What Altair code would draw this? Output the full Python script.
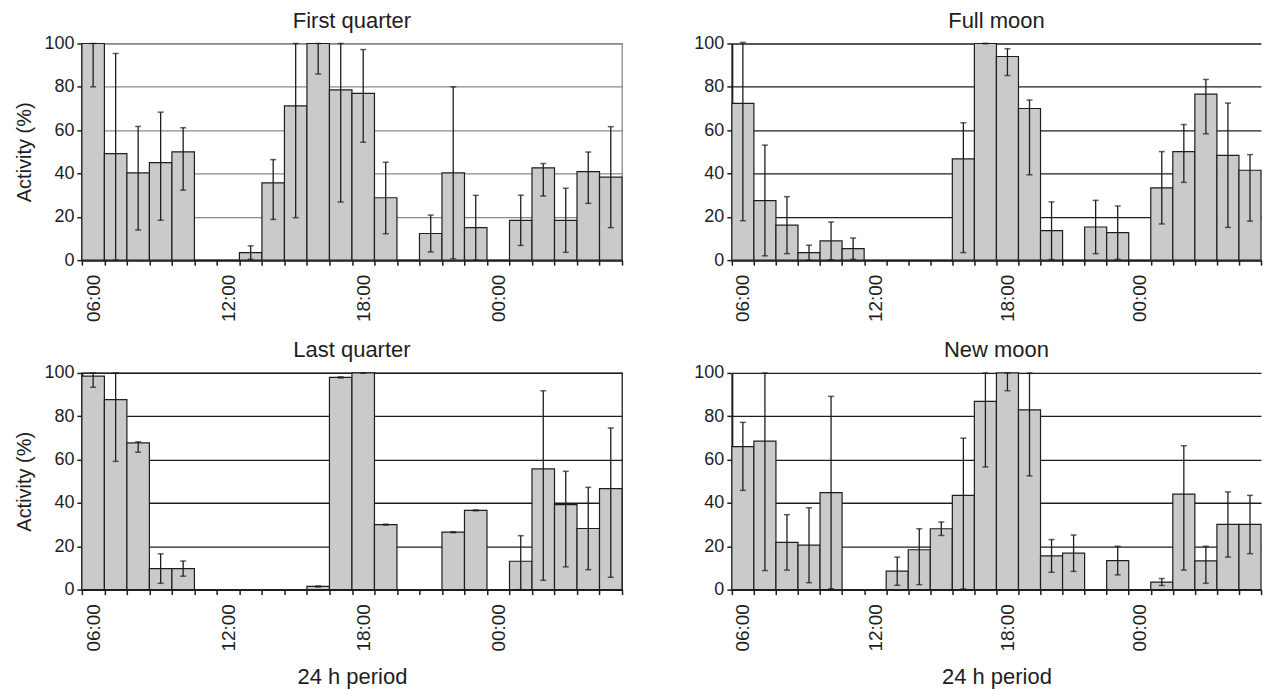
import altair as alt
import pandas as pd

hours = ["06:00", "07:00", "08:00", "09:00", "10:00", "11:00", "12:00", "13:00",
         "14:00", "15:00", "16:00", "17:00", "18:00", "19:00", "20:00", "21:00",
         "22:00", "23:00", "00:00", "01:00", "02:00", "03:00", "04:00", "05:00"]
shown_labels = ["06:00", "12:00", "18:00", "00:00"]

# First quarter
fq_mean = [100, 49.2, 40.3, 45, 50, 0, 0, 3.5, 35.7, 71.2, 100, 78.6, 77, 28.8, 0, 12.3, 40.3, 15, 0, 18.4, 42.6, 18.4, 40.9, 38.3]
fq_low = [80, 0, 13.9, 18.4, 32.3, 0, 0, 0.4, 18.8, 19.6, 85.9, 26.8, 54.4, 12.2, 0, 3.8, 0.6, 0, 0, 6.8, 29.6, 3.6, 26.2, 15]
fq_high = [100, 95.4, 61.7, 68.3, 61.1, 0, 0, 6.6, 46.4, 100, 100, 100, 97.2, 45.2, 0, 20.8, 80, 29.9, 0, 30, 44.6, 33.2, 49.9, 61.6]

# Full moon
fm_mean = [72.4, 27.5, 16.2, 3.5, 8.9, 5.3, 0, 0, 0, 0, 46.7, 100, 94, 70, 13.6, 0, 15.3, 12.7, 0, 33.4, 50.1, 76.6, 48.4, 41.5]
fm_low = [18.2, 2, 3, 0, 0.2, 0.4, 0, 0, 0, 0, 3.5, 100, 85.2, 39.4, 0.3, 0, 3, 0.4, 0, 16.7, 35.9, 58.3, 15.1, 18]
fm_high = [100.5, 53.1, 29.3, 6.9, 17.6, 10.2, 0, 0, 0, 0, 63.4, 100, 97.6, 73.9, 26.9, 0, 27.6, 25, 0, 50.1, 62.6, 83.4, 72.5, 48.7]

# Last quarter
lq_mean = [98.5, 87.7, 67.7, 9.7, 9.7, 0, 0, 0, 0, 0, 1.5, 98, 100, 30, 0, 0, 26.5, 36.6, 0, 13.1, 55.7, 39.2, 28.2, 46.6]
lq_low = [93.4, 59.2, 63.4, 2.9, 6.2, 0, 0, 0, 0, 0, 1.2, 97.7, 100, 29.8, 0, 0, 26.3, 36.4, 0, 0, 4.3, 10.5, 9.2, 5.7]
lq_high = [100, 100, 68.2, 16.5, 13.2, 0, 0, 0, 0, 0, 1.7, 98.2, 100, 30.2, 0, 0, 26.7, 36.8, 0, 24.9, 91.8, 54.6, 47.2, 74.6]

# New moon
nm_mean = [66, 68.5, 21.8, 20.5, 44.8, 0, 0, 8.5, 18.4, 28.1, 43.5, 86.9, 100, 83, 15.6, 16.8, 0, 13.4, 0, 3.5, 44.1, 13.3, 30.1, 30.1]
nm_low = [45.8, 8.8, 9, 3.2, 0.4, 0, 0, 2, 2.3, 25, 0.3, 56.6, 91.8, 52.5, 8, 8.4, 0, 6.8, 0, 1.9, 9, 2.9, 15, 16.6]
nm_high = [77.2, 100, 34.6, 37.8, 89.2, 0, 0, 15, 28.1, 31.2, 69.9, 100, 100, 100, 23.1, 25.2, 0, 20, 0, 5.1, 66.4, 20, 45.1, 43.5]

FONT = "Liberation Sans"
INK = "#1e1e1e"
BAR_FILL = "#c9cacc"


def panel(title, mean, low, high, left, bottom, width, grid_color, border_color):
    df = pd.DataFrame({"hour": hours, "mean": mean, "low": low, "high": high})
    label_expr = "indexof(" + str(shown_labels) + ", datum.value) >= 0 ? datum.value : ''"
    xaxis_kw = dict(
        values=hours, labelExpr=label_expr, labelAngle=270, labelAlign="right",
        labelBaseline="middle", labelFontSize=19, labelFont=FONT, labelColor=INK,
        labelPadding=9, labelOverlap=False, tickBand="extent", tickSize=5,
        tickColor=INK, tickWidth=1.5, domainColor=INK, domainWidth=2, grid=False,
    )
    if bottom:
        xaxis_kw.update(title="24 h period", titleFontSize=22, titleFont=FONT,
                        titleFontWeight="normal", titleColor=INK, titlePadding=15)
    else:
        xaxis_kw.update(title=None)
    yaxis_kw = dict(
        values=[0, 20, 40, 60, 80, 100], grid=True, gridColor=grid_color, gridWidth=1.3,
        tickSize=5, tickColor=INK, tickWidth=1.5, domainColor=INK, domainWidth=2,
        labelFontSize=18, labelFont=FONT, labelColor=INK, labelPadding=3,
    )
    if left:
        yaxis_kw.update(title="Activity (%)", titleFontSize=20, titleFont=FONT,
                        titleFontWeight="normal", titleColor=INK, titlePadding=9)
    else:
        yaxis_kw.update(title=None)

    x = alt.X("hour:N", sort=hours,
              scale=alt.Scale(paddingInner=0, paddingOuter=0),
              axis=alt.Axis(**xaxis_kw))
    y = alt.Y("mean:Q", scale=alt.Scale(domain=[0, 100], nice=False),
              axis=alt.Axis(**yaxis_kw))

    base = alt.Chart(df)
    bars = base.mark_bar(fill=BAR_FILL, stroke=INK, strokeWidth=1.2).encode(x=x, y=y)
    nz = base.transform_filter("datum.high > 0")
    rules = nz.mark_rule(color=INK, strokeWidth=1.3).encode(
        x=alt.X("hour:N", sort=hours), y="low:Q", y2="high:Q")
    cap_hi = nz.mark_tick(color=INK, thickness=1.5, size=6).encode(
        x=alt.X("hour:N", sort=hours), y="high:Q")
    cap_lo = nz.mark_tick(color=INK, thickness=1.5, size=6).encode(
        x=alt.X("hour:N", sort=hours), y="low:Q")

    return alt.layer(bars, rules, cap_hi, cap_lo).properties(
        width=width, height=217,
        title=alt.TitleParams(title, fontSize=22, font=FONT, fontWeight="normal",
                              color=INK, offset=2, anchor="middle"),
        view=alt.ViewBackground(stroke=border_color, strokeWidth=1.3),
    )


p1 = panel("First quarter", fq_mean, fq_low, fq_high, True, False, 541, "#8a8a8a", "#8a8a8a")
p2 = panel("Full moon", fm_mean, fm_low, fm_high, False, False, 530, INK, "transparent")
p3 = panel("Last quarter", lq_mean, lq_low, lq_high, True, True, 541, INK, INK)
p4 = panel("New moon", nm_mean, nm_low, nm_high, False, True, 530, INK, "transparent")

row1 = alt.hconcat(p1, p2, spacing=69)
row2 = alt.hconcat(p3, p4, spacing=69)
chart = alt.vconcat(row1, row2, spacing=15).properties(
    padding={"left": 6, "top": 0, "right": 0, "bottom": 0},
    background="white",
).resolve_scale(x="independent", y="independent")

chart.save("out.html", embed_options={"renderer": "svg", "actions": False})
